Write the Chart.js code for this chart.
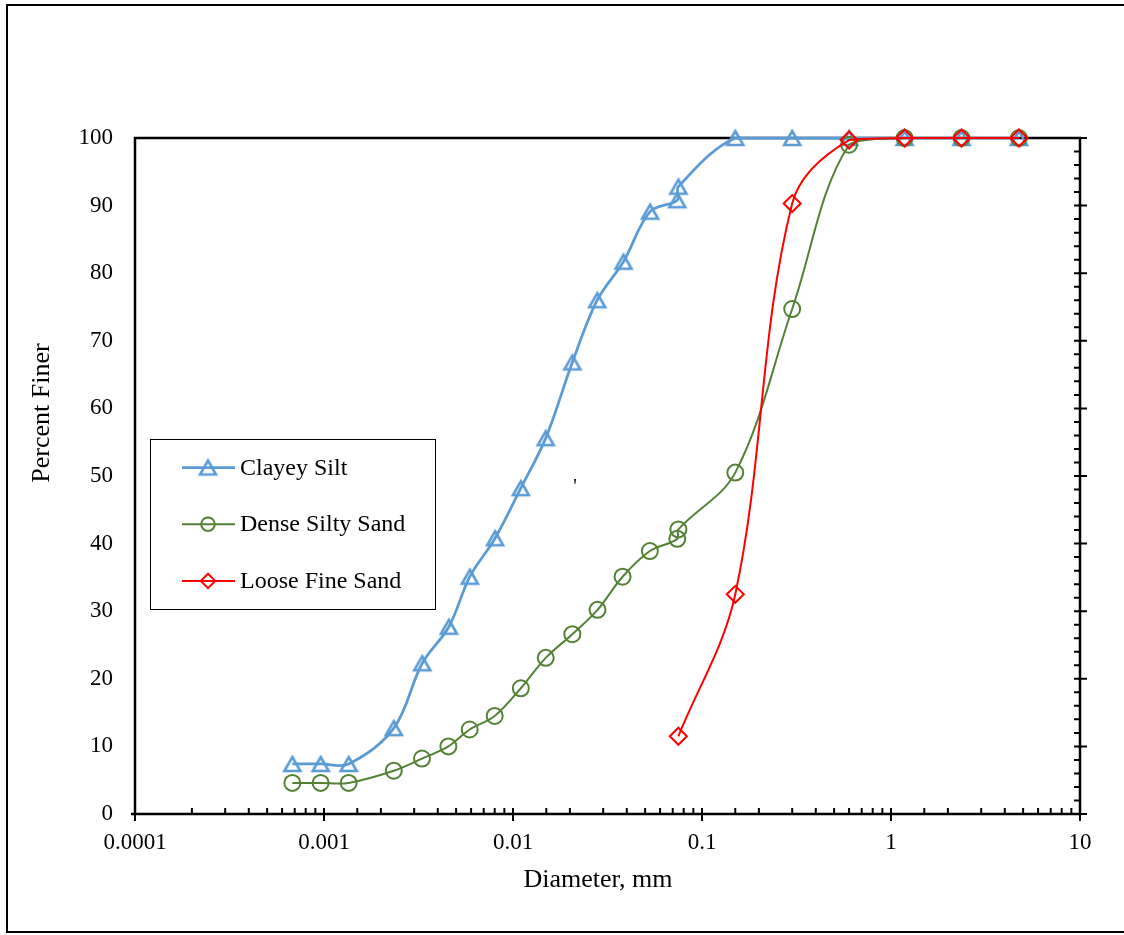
<!DOCTYPE html>
<html>
<head>
<meta charset="utf-8">
<script src="https://cdn.jsdelivr.net/npm/chart.js@4/dist/chart.umd.min.js"></script>
<style>
  html, body { margin: 0; padding: 0; background: #fff; }
  #wrap { position: relative; width: 1124px; height: 935px; }
</style>
</head>
<body>
<div id="wrap"><canvas id="chart"></canvas></div>
<script>
// grain size data (diameter in mm, percent finer)
var seriesNames = ['Clayey Silt', 'Dense Silty Sand', 'Loose Fine Sand'];

var siltSize  = [0.00068, 0.00096, 0.00135, 0.00234, 0.00331, 0.00458, 0.00591, 0.00804, 0.0110, 0.0149, 0.0206, 0.0279, 0.0384, 0.0531, 0.074, 0.075, 0.15, 0.3, 0.6, 1.18, 2.36, 4.75];
var siltFiner = [7.4, 7.4, 7.4, 12.7, 22.3, 27.7, 35.1, 40.8, 48.2, 55.6, 66.8, 76.0, 81.7, 89.1, 90.8, 92.8, 100, 100, 100, 100, 100, 100];

var denseSize  = [0.00068, 0.00096, 0.00135, 0.00234, 0.0033, 0.00455, 0.0059, 0.008, 0.011, 0.0149, 0.0206, 0.028, 0.038, 0.053, 0.074, 0.075, 0.15, 0.3, 0.6, 1.18, 2.36, 4.75];
var denseFiner = [4.6, 4.6, 4.6, 6.4, 8.2, 10.0, 12.5, 14.5, 18.6, 23.1, 26.6, 30.2, 35.1, 38.9, 40.7, 42.1, 50.5, 74.7, 99.0, 100, 100, 100];

var looseSize  = [0.075, 0.15, 0.3, 0.6, 1.18, 2.36, 4.75];
var looseFiner = [11.5, 32.5, 90.3, 99.7, 100, 100, 100];

var xMin = 0.0001, xMax = 10;
var yMin = 0, yMax = 100;

function pairs(xs, ys) {
    return xs.map(function(x, i) { return { x: x, y: ys[i] }; });
}

// hollow triangle sitting in its box like the excel marker
function triangleMark(color) {
    var c = document.createElement('canvas');
    c.width = 24; c.height = 22;
    var g = c.getContext('2d');
    g.strokeStyle = color;
    g.lineWidth = 2.6;
    g.beginPath();
    g.moveTo(12, 4);
    g.lineTo(20, 18);
    g.lineTo(4, 18);
    g.closePath();
    g.stroke();
    return c;
}

var serif = '"Liberation Serif", "Times New Roman", serif';
Chart.defaults.font.family = serif;
Chart.defaults.color = '#000';

function isDecade(v) {
    var l = Math.log10(v);
    return Math.abs(l - Math.round(l)) < 1e-9;
}

var frame = {
    id: 'frame',
    beforeDatasetsDraw: function(chart) {
        var ctx = chart.ctx, a = chart.chartArea;
        var xs = chart.scales.x, ys = chart.scales.y2;
        ctx.save();
        ctx.strokeStyle = '#000';

        // outer border
        ctx.lineWidth = 2;
        ctx.beginPath();
        ctx.moveTo(1130, 5); ctx.lineTo(7, 5); ctx.lineTo(7, 932); ctx.lineTo(1130, 932);
        ctx.stroke();

        // plot box
        ctx.lineWidth = 2.5;
        ctx.strokeRect(a.left, a.top, a.right - a.left, a.bottom - a.top);
        ctx.beginPath();
        ctx.moveTo(a.left - 4, a.bottom); ctx.lineTo(a.left, a.bottom);
        ctx.stroke();

        // bottom ticks
        ctx.lineWidth = 2;
        ctx.beginPath();
        xs.ticks.forEach(function(t) {
            var px = xs.getPixelForValue(t.value);
            ctx.moveTo(px, a.bottom - 6);
            ctx.lineTo(px, isDecade(t.value) ? a.bottom + 7 : a.bottom);
        });
        // right ticks
        ys.ticks.forEach(function(t) {
            var py = ys.getPixelForValue(t.value);
            ctx.moveTo(a.right - 6, py);
            ctx.lineTo(t.value % 10 === 0 ? a.right + 7 : a.right, py);
        });
        ctx.stroke();

        // axis titles
        ctx.fillStyle = '#000';
        ctx.font = '26px ' + serif;
        ctx.textAlign = 'center';
        ctx.textBaseline = 'middle';
        ctx.fillText('Diameter, mm', 598, 880);
        ctx.save();
        ctx.translate(42, 413);
        ctx.rotate(-Math.PI / 2);
        ctx.fillText('Percent Finer', 0, 0);
        ctx.restore();

        ctx.font = '20px ' + serif;
        ctx.fillText("'", 575, 488);
        ctx.restore();
    }
};

var boxLegend = {
    id: 'boxLegend',
    afterDraw: function(chart) {
        var ctx = chart.ctx;
        ctx.save();
        ctx.strokeStyle = '#000';
        ctx.lineWidth = 1;
        ctx.strokeRect(150.5, 439.5, 285, 170);
        chart.data.datasets.forEach(function(ds, i) {
            var y = 467.5 + i * 56.7;
            ctx.strokeStyle = ds.borderColor;
            ctx.lineWidth = ds.borderWidth;
            ctx.beginPath();
            ctx.moveTo(182, y); ctx.lineTo(235, y);
            ctx.stroke();
            ctx.strokeStyle = ds.pointBorderColor;
            ctx.fillStyle = 'rgba(0,0,0,0)';
            Chart.helpers.drawPoint(ctx, {
                pointStyle: ds.pointStyle,
                radius: ds.pointRadius * 0.85,
                borderWidth: ds.pointBorderWidth,
                rotation: 0
            }, 208, y);
            ctx.fillStyle = '#000';
            ctx.font = '24px ' + serif;
            ctx.textAlign = 'left';
            ctx.textBaseline = 'middle';
            ctx.fillText(ds.label, 240, y + 1);
        });
        ctx.restore();
    }
};

var ctx = document.getElementById('chart').getContext('2d');

var chart = new Chart(ctx, {
    type: 'line',
    data: {
        datasets: [{
            label: seriesNames[0],
            data: pairs(siltSize, siltFiner),
            borderColor: '#5B9BD5',
            borderWidth: 2.75,
            pointStyle: triangleMark('#5B9BD5'),
            pointRadius: 8,
            pointBorderColor: '#5B9BD5',
            pointBorderWidth: 2.5,
            pointBackgroundColor: 'rgba(0,0,0,0)',
            tension: 0.35,
            order: 3
        }, {
            label: seriesNames[1],
            data: pairs(denseSize, denseFiner),
            borderColor: '#548235',
            borderWidth: 2,
            pointStyle: 'circle',
            pointRadius: 8,
            pointBorderColor: '#548235',
            pointBorderWidth: 2,
            pointBackgroundColor: 'rgba(0,0,0,0)',
            tension: 0.35,
            order: 2
        }, {
            label: seriesNames[2],
            data: pairs(looseSize, looseFiner),
            borderColor: '#FF0000',
            borderWidth: 2,
            pointStyle: 'rectRot',
            pointRadius: 8.5,
            pointBorderColor: '#FF0000',
            pointBorderWidth: 2,
            pointBackgroundColor: 'rgba(0,0,0,0)',
            tension: 0.35,
            order: 1
        }]
    },
    options: {
        responsive: true,
        maintainAspectRatio: false,
        animation: false,
        clip: false,
        layout: { padding: { left: 0, top: 138, right: 0, bottom: 0 } },
        plugins: { legend: { display: false }, tooltip: { enabled: false } },
        scales: {
            x: {
                type: 'logarithmic',
                min: xMin, max: xMax,
                grid: { display: false, drawTicks: false },
                border: { display: false },
                ticks: {
                    autoSkip: false, maxRotation: 0, padding: 15,
                    font: { size: 23 },
                    callback: function(v) { return isDecade(v) ? String(+v.toPrecision(1)) : ''; }
                },
                afterFit: function(s) { s.height = 121; }
            },
            y: {
                min: yMin, max: yMax,
                position: 'left',
                grid: { display: false, drawTicks: false },
                border: { display: false },
                ticks: { stepSize: 10, padding: 22, font: { size: 23 } },
                afterFit: function(s) { s.width = 135; }
            },
            y2: {
                min: yMin, max: yMax,
                position: 'right',
                grid: { display: false, drawTicks: false },
                border: { display: false },
                ticks: { stepSize: 2, display: false },
                afterFit: function(s) { s.width = 44; }
            }
        }
    },
    plugins: [frame, boxLegend]
});
</script>
</body>
</html>
